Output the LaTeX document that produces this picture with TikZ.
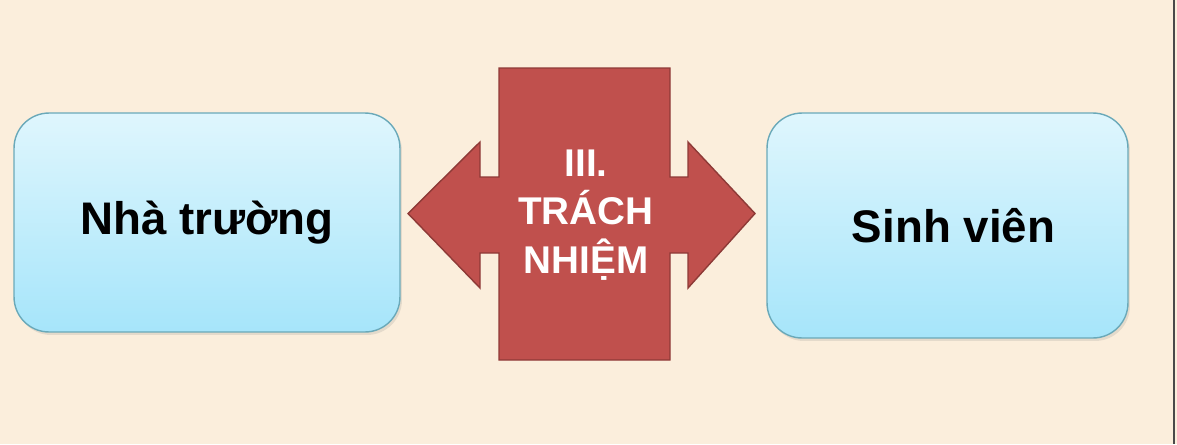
\documentclass[tikz,border=0pt]{standalone}
\usepackage{fontspec}
\setmainfont{Liberation Sans}
\usetikzlibrary{positioning,shadows}
\definecolor{paper}{HTML}{FBEEDC}
\definecolor{skytop}{HTML}{DFF6FD}
\definecolor{skybot}{HTML}{A6E5FA}
\definecolor{tealrim}{HTML}{6AA9B9}
\definecolor{brick}{HTML}{C0504D}
\definecolor{brickrim}{HTML}{8E3A37}
\definecolor{edge}{HTML}{4A4A4A}

\begin{document}
\begin{tikzpicture}[x=0.02cm,y=-0.02cm,every node/.style={font=\bfseries\fontsize{26}{30}\selectfont},
 party/.style={draw=tealrim,line width=0.8pt,rounded corners=0.7cm,align=center,top color=skytop,bottom color=skybot,
  drop shadow={opacity=0.18,shadow xshift=0.04cm,shadow yshift=-0.06cm}},
 duty/.style={fill=brick,draw=brickrim,line width=0.8pt,line join=miter}]
\useasboundingbox[fill=paper](0,0) rectangle (1177,444);
\draw[edge,line width=0.6pt](1174,0)--(1174,444);
\node[party,minimum width=7.72cm,minimum height=4.38cm](school) at (207,222.5){Nhà trường};
\node[party,minimum width=7.22cm,minimum height=4.5cm](student) at (947.5,225.5){\hspace{0.24cm}Sinh viên};
% double arrow in the middle
\draw[duty](499,68)--(670,68)--(670,177)--(688,177)--(688,142)--(755,213.5)--(688,288)--(688,253)
 --(670,253)--(670,360)--(499,360)--(499,253)--(480,253)--(480,288)--(408,213.5)--(480,142)--(480,177)--(499,177)--cycle;
\node[white,align=center,font=\bfseries\fontsize{22}{27.5}\selectfont](duty) at (586,215){III.\\TRÁCH\\NHIỆM};
\end{tikzpicture}
\end{document}
